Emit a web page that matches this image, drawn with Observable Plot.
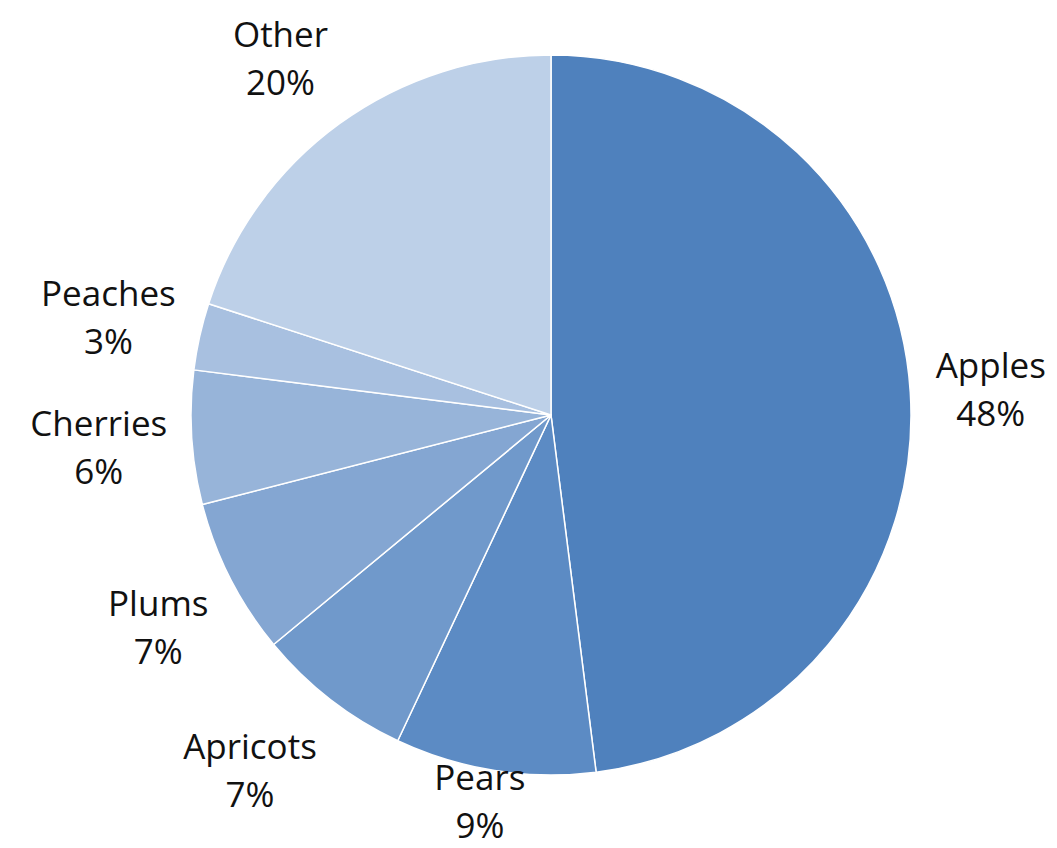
<!DOCTYPE html>
<html>
<head>
<meta charset="utf-8">
<script src="https://cdn.jsdelivr.net/npm/d3@7"></script>
<script src="https://cdn.jsdelivr.net/npm/@observablehq/plot@0.6"></script>
<style>
  html, body { margin: 0; padding: 0; background: #fff; }
  #chart { width: 1057px; height: 848px; overflow: hidden; }
</style>
</head>
<body>
<div id="chart"></div>
<script>
// ---- data ----
const fruits = ["Apples", "Pears", "Apricots", "Plums", "Cherries", "Peaches", "Other"];
const shares = [48, 9, 7, 7, 6, 3, 20];
const sliceColors = ["#4f81bd", "#5c8bc4", "#7099cb", "#84a6d2", "#97b4d9", "#a8c0e0", "#bdd0e8"];

// ---- layout ----
const W = 1057, H = 848;
const CX = 551, CY = 415, RPX = 360;    // pie centre & radius in px
const FONT_PX = 35, LINE_H = 1.37;
const GAP = 25 / RPX;                   // label gap outside the rim (units)
const K = 1.6;                          // how quickly the box offset saturates

const xDomain = [-CX / RPX, (W - CX) / RPX];
const yDomain = [(CY - H) / RPX, CY / RPX];

const data = fruits.map((f, i) => ({fruit: f, share: shares[i]}));
const arcs = d3.pie().sort(null).value(d => d.share)(data);

const ctx = document.createElement("canvas").getContext("2d");
ctx.font = `${FONT_PX}px "Open Sans"`;

const halfH = (FONT_PX * LINE_H) / RPX;  // half of a two-line block
const clamp1 = v => Math.max(-1, Math.min(1, v));
const labels = arcs.map(a => {
  const mid = (a.startAngle + a.endAngle) / 2;
  const sx = Math.sin(mid), sy = Math.cos(mid);
  const text = `${a.data.fruit}\n${d3.format(".0%")(a.data.share / 100)}`;
  const w = Math.max(ctx.measureText(a.data.fruit).width, ctx.measureText(a.data.share + "%").width);
  const hw = w / 2 / RPX;
  let x = sx * (1 + GAP) + clamp1(sx * K) * hw;
  let y = sy * (1 + GAP) + clamp1(sy * K) * halfH;
  const padY = 50 / RPX;
  y = Math.max(yDomain[0] + padY, Math.min(yDomain[1] - padY, y));
  x = Math.max(xDomain[0] + hw, Math.min(xDomain[1] - hw, x));
  return {x, y, text};
});

const colorOf = d3.scaleOrdinal(fruits, sliceColors);

function pieMark(index, scales) {
  const cx = scales.x(0), cy = scales.y(0);
  const r = scales.x(1) - scales.x(0);
  const arcGen = d3.arc().innerRadius(0).outerRadius(r);
  const g = d3.create("svg:g").attr("transform", `translate(${cx},${cy})`);
  g.selectAll("path")
    .data(arcs)
    .join("path")
    .attr("d", arcGen)
    .attr("fill", d => colorOf(d.data.fruit))
    .attr("stroke", "#ffffff")
    .attr("stroke-width", 1.5)
    .attr("stroke-linejoin", "round");
  return g.node();
}

const plot = Plot.plot({
  width: W,
  height: H,
  margin: 0,
  style: {fontFamily: "Open Sans", background: "#fff", overflow: "visible"},
  x: {domain: xDomain, axis: null},
  y: {domain: yDomain, axis: null},
  marks: [
    pieMark,
    Plot.text(labels, {
      x: "x", y: "y", text: "text",
      fontSize: FONT_PX,
      lineHeight: LINE_H,
      fill: "#111",
      textAnchor: "middle",
      lineAnchor: "middle"
    })
  ]
});
document.getElementById("chart").appendChild(plot);
</script>
</body>
</html>
